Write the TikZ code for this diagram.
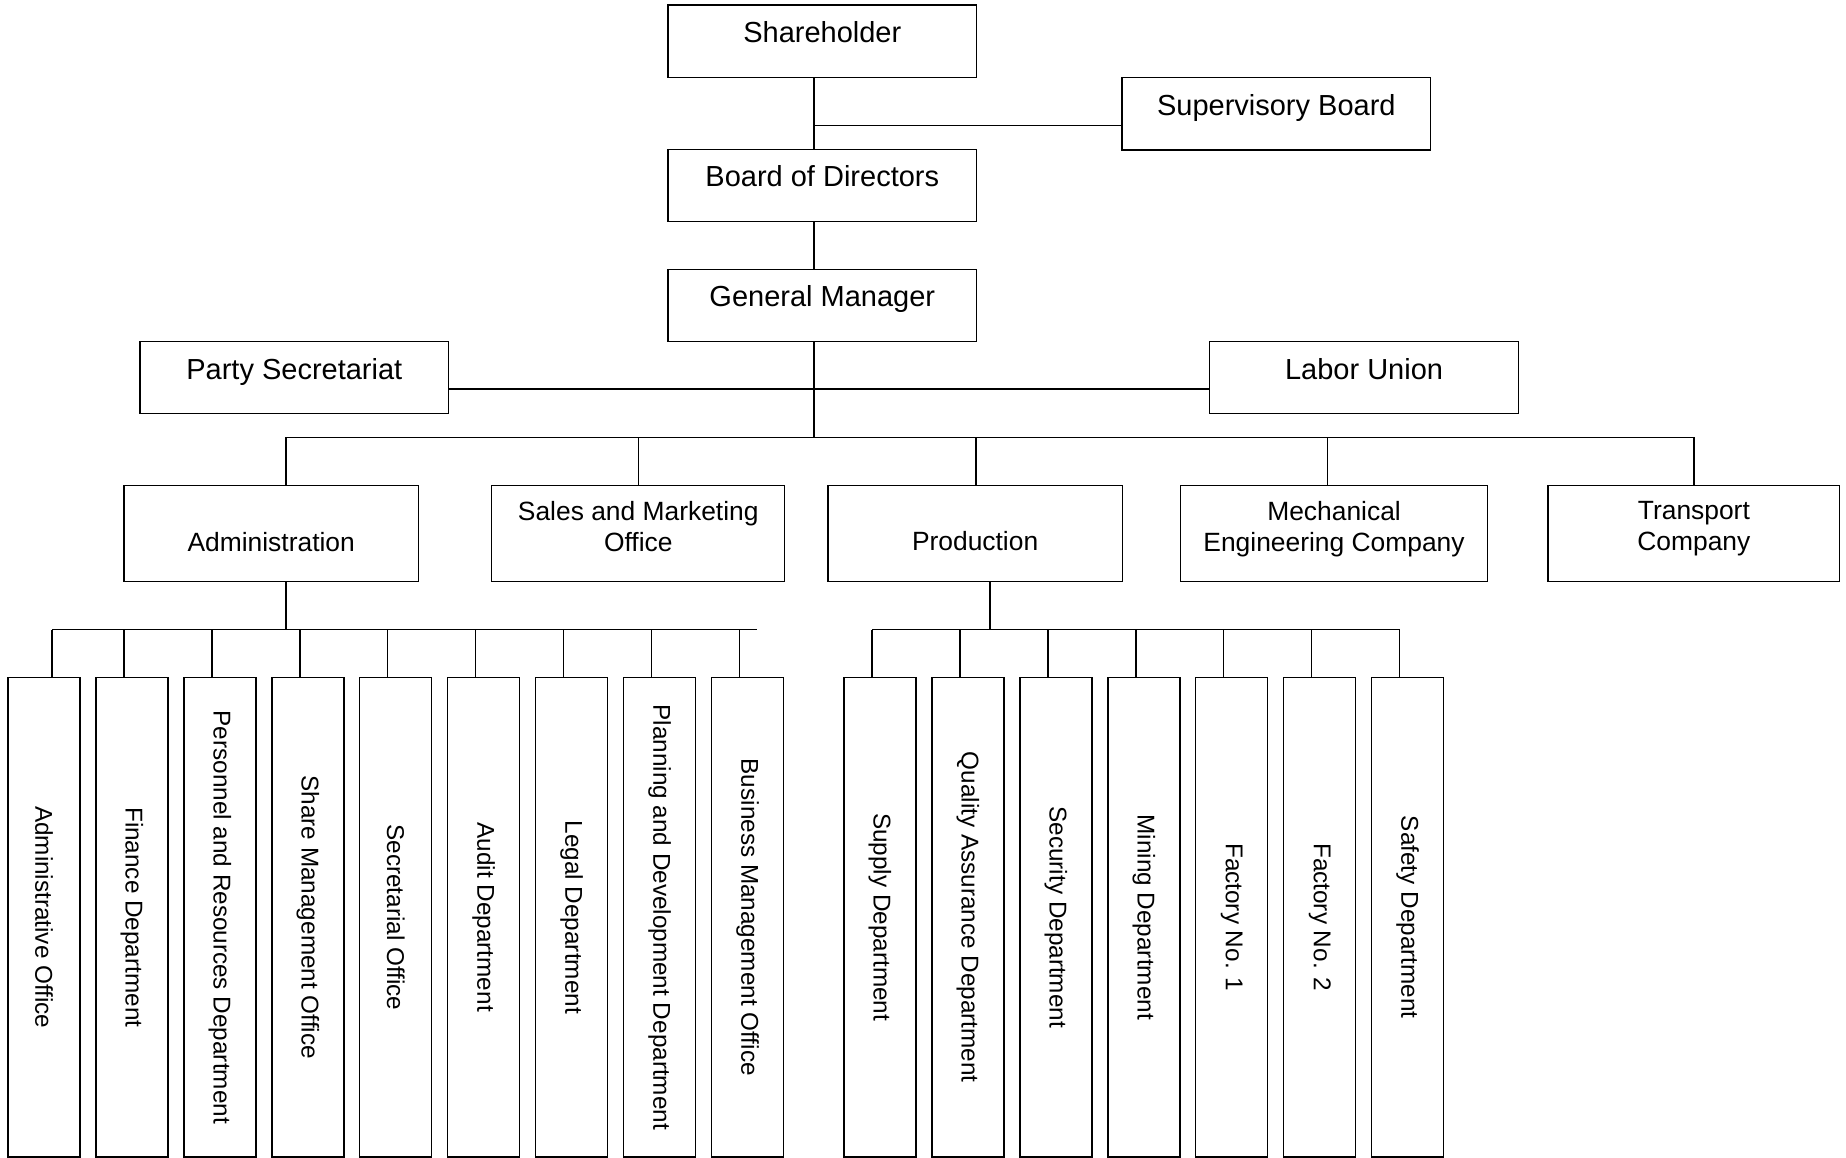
\documentclass[tikz,border=0pt]{standalone}
\usepackage{fontspec}
\setmainfont{Liberation Sans}
\begin{document}
\begin{tikzpicture}[x=1pt,y=-1pt,
  box/.style={draw, line width=1.3pt, inner sep=0pt, outer sep=0pt, anchor=north west},
  topbox/.style={box, minimum width=308.6pt, minimum height=72.3pt},
  midbox/.style={box, minimum height=96.2pt},
  subbox/.style={box, minimum width=72pt, minimum height=479.5pt},
  ttop/.style={inner sep=0pt, anchor=base, font=\fontsize{29}{34}\selectfont},
  tmid/.style={inner sep=0pt, align=center, font=\fontsize{26.4}{31}\selectfont},
  tsub/.style={inner sep=0pt, rotate=-90, font=\fontsize{24.3}{28}\selectfont},
  conn/.style={line width=1.3pt}]
\fill[white] (0,0) rectangle (1846,1158);
\useasboundingbox (0,0) rectangle (1846,1158);

% top level boxes
\node[topbox] (sh) at (668,5) {};
\node[topbox] (sb) at (1122,77.7) {};
\node[topbox] (bod) at (668,149.3) {};
\node[topbox] (gm) at (668,269.3) {};
\node[topbox] (ps) at (140,341.3) {};
\node[topbox] (lu) at (1209.8,341.3) {};
\node[ttop] (sh-t) at ([yshift=-38pt]sh.north) {Shareholder};
\node[ttop] (sb-t) at ([yshift=-37.4pt]sb.north) {Supervisory Board};
\node[ttop] (bod-t) at ([yshift=-37pt]bod.north) {Board of Directors};
\node[ttop] (gm-t) at ([yshift=-37pt]gm.north) {General Manager};
\node[ttop] (ps-t) at ([yshift=-38.4pt]ps.north) {Party Secretariat};
\node[ttop] (lu-t) at ([yshift=-37.7pt]lu.north) {Labor Union};

% second level boxes
\node[midbox, minimum width=294.4pt] (adm) at (124,485.5) {};
\node[midbox, minimum width=292.9pt] (sal) at (491.8,485.5) {};
\node[midbox, minimum width=294.2pt] (pro) at (828,485.5) {};
\node[midbox, minimum width=307.5pt] (mec) at (1180.3,485.5) {};
\node[midbox, minimum width=291.7pt] (tra) at (1548,485.5) {};
\node[tmid, anchor=base] (adm-t) at ([yshift=-65.5pt]adm.north) {Administration};
\node[tmid, anchor=north] (sal-t) at ([yshift=-15.6pt]sal.north) {Sales and Marketing\\Office};
\node[tmid, anchor=base] (pro-t) at ([yshift=-65.3pt]pro.north) {Production};
\node[tmid, anchor=north] (mec-t) at ([yshift=-15.6pt]mec.north) {Mechanical\\Engineering Company};
\node[tmid, anchor=north] (tra-t) at ([yshift=-15.8pt]tra.north) {Transport\\Company};

% main spine
\coordinate (m) at (814,0);
\coordinate (jsb) at (814,125.7);
\coordinate (jps) at (814,389);
\coordinate (bus) at (814,437.3);
\draw[conn] (sh.south -| m) -- (bod.north -| m);
\draw[conn] (jsb) -- (jsb -| sb.west);
\draw[conn] (bod.south -| m) -- (gm.north -| m);
\draw[conn] (gm.south -| m) -- (bus);
\draw[conn] (jps -| ps.east) -- (jps -| lu.west);

% level 2 bus
\coordinate (badm) at (286,437.3);
\coordinate (bsal) at (638.3,437.3);
\coordinate (bpro) at (976.1,437.3);
\coordinate (bmec) at (1327.7,437.3);
\coordinate (btra) at (1694,437.3);
\draw[conn] (badm) -- (btra);
\draw[conn] (badm) -- (badm |- adm.north);
\draw[conn] (bsal) -- (bsal |- sal.north);
\draw[conn] (bpro) -- (bpro |- pro.north);
\draw[conn] (bmec) -- (bmec |- mec.north);
\draw[conn] (btra) -- (btra |- tra.north);

% administration subtree
\coordinate (aj) at (286,629.7);
\coordinate (aL) at (52,629.7);
\coordinate (aR) at (756.6,629.7);
\draw[conn] (adm.south -| aj) -- (aj);
\draw[conn] (aL) -- (aR);
\foreach \i/\txt in {0/Administrative Office, 1/Finance Department, 2/Personnel and Resources Department, 3/Share Management Office, 4/Secretarial Office, 5/Audit Department, 6/Legal Department, 7/Planning and Development Department, 8/Business Management Office} {
  \pgfmathsetmacro\L{8+87.95*\i}
  \pgfmathsetmacro\cx{ifthenelse(\i==0,52,\L+28)}
  \node[subbox] (a\i) at (\L,677.5) {};
  \node[tsub] (a\i-t) at (a\i.center) {\txt};
  \coordinate (ac\i) at (\cx,629.7);
  \draw[conn] (ac\i) -- (ac\i |- a\i.north);
}

% production subtree
\coordinate (pj) at (990,629.7);
\coordinate (pL) at (872,629.7);
\coordinate (pR) at (1399.7,629.7);
\draw[conn] (pro.south -| pj) -- (pj);
\draw[conn] (pL) -- (pR);
\foreach \i/\txt in {0/Supply Department, 1/Quality Assurance Department, 2/Security Department, 3/Mining Department, 4/Factory No. 1, 5/Factory No. 2, 6/Safety Department} {
  \pgfmathsetmacro\L{844+87.95*\i}
  \pgfmathsetmacro\cx{\L+28}
  \node[subbox] (p\i) at (\L,677.5) {};
  \node[tsub] (p\i-t) at (p\i.center) {\txt};
  \coordinate (pc\i) at (\cx,629.7);
  \draw[conn] (pc\i) -- (pc\i |- p\i.north);
}
\end{tikzpicture}
\end{document}
